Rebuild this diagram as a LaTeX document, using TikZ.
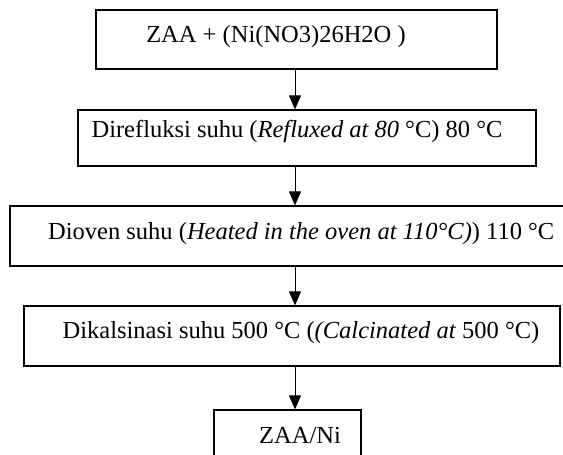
\documentclass[tikz,border=0pt]{standalone}
\usepackage{fontspec}
\setmainfont{Liberation Serif}
\usetikzlibrary{arrows.meta,positioning}

\begin{document}
\begin{tikzpicture}[
    x=1pt,y=-1pt,
    stepbox/.style={draw,line width=1.2pt,inner sep=0pt},
    lbl/.style={font=\fontsize{24.5}{29}\selectfont,inner sep=0pt},
    flow/.style={line width=0.9pt,-{Triangle[width=12pt,length=14pt]}},
  ]
  \useasboundingbox (0,0) rectangle (563,455);
  % Boxes of the process steps (top to bottom)
  \node[stepbox,minimum width=401pt,minimum height=59pt] (mix) at (296.5,39.5) {};
  \node[stepbox,minimum width=458pt,minimum height=56pt] (reflux) at (307,138) {};
  \node[stepbox,minimum width=590pt,minimum height=60pt] (oven) at (305,236) {};
  \node[stepbox,minimum width=536pt,minimum height=60pt] (calc) at (292,336) {};
  \node[stepbox,minimum width=147pt,minimum height=60pt] (prod) at (287.5,440) {};
  % Texts inside the boxes
  \node[lbl] (mixtxt) at (276,37) {ZAA + (Ni(NO3)26H2O )};
  \node[lbl] (refluxtxt) at (297,131) {Direfluksi suhu (\textit{Refluxed at 80} °C) 80 °C};
  \node[lbl,anchor=west] (oventxt) at (48,234) {Dioven suhu (\textit{Heated in the oven at 110°C)}) 110 °C};
  \node[lbl] (calctxt) at (301,333) {Dikalsinasi suhu 500 °C (\textit{(Calcinated at} 500 °C)};
  \node[lbl] (prodtxt) at (300,436) {ZAA/Ni};
  % Arrows down the chart
  \coordinate (axis) at (295,0);
  \draw[flow] (mix.south -| axis) -- (reflux.north -| axis);
  \draw[flow] (reflux.south -| axis) -- (oven.north -| axis);
  \draw[flow] (oven.south -| axis) -- (calc.north -| axis);
  \draw[flow] (calc.south -| axis) -- (prod.north -| axis);
\end{tikzpicture}
\end{document}
